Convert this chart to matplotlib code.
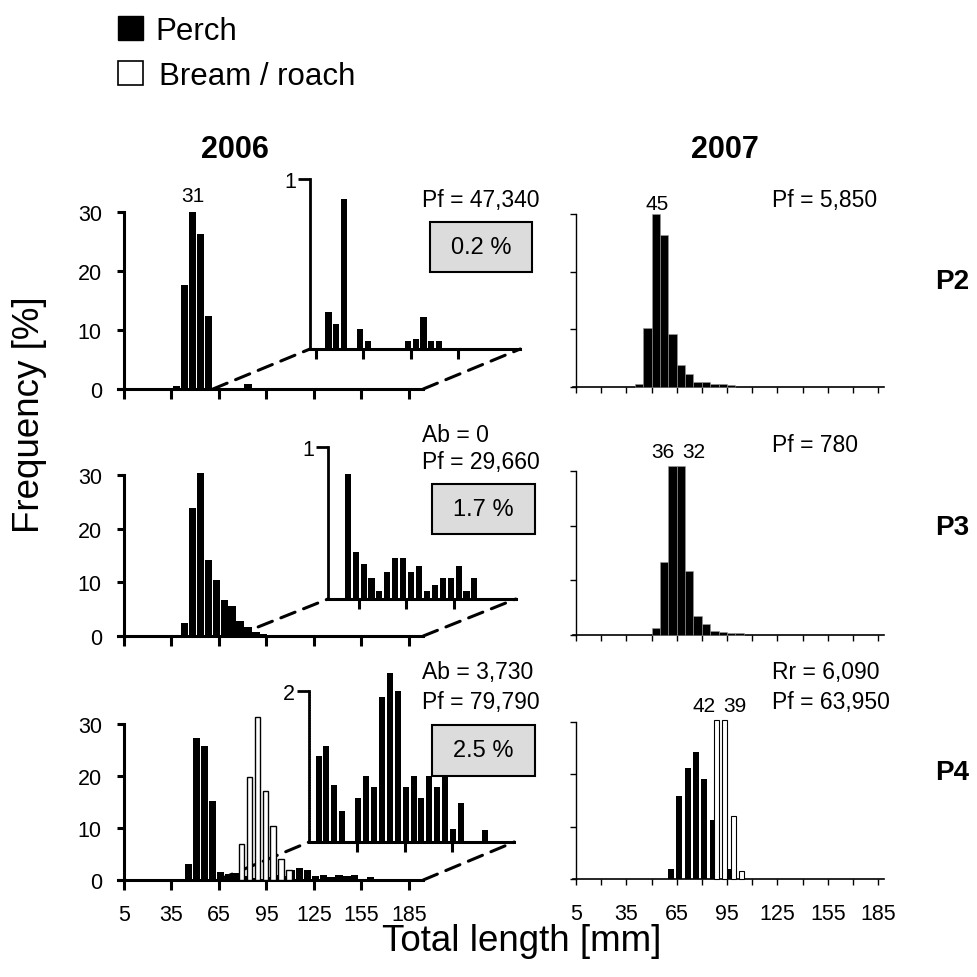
import numpy as np
import matplotlib.pyplot as plt
from matplotlib.patches import Rectangle, ConnectionPatch

plt.rcParams['font.family'] = ['Liberation Sans', 'DejaVu Sans']

# ================= Data: bin start [mm] and frequency [%] =================
# 2006
p2_2006_len = [36, 41, 46, 51, 56, 71, 76, 81, 91, 96, 121, 126, 131, 136, 141]
p2_2006_perch = [0.5, 17.6, 31.0, 26.3, 12.4, 0.22, 0.15, 0.88, 0.12, 0.05,
                 0.05, 0.06, 0.19, 0.05, 0.05]

p3_2006_len = [41, 46, 51, 56, 61, 66, 71, 76, 81, 86, 91, 96, 101, 106, 111,
               116, 121, 126, 131, 136, 141, 146, 151, 156, 161, 166]
p3_2006_perch = [2.4, 23.9, 40.0, 14.2, 10.5, 6.7, 5.6, 2.8, 1.7, 0.82, 0.31,
                 0.23, 0.14, 0.05, 0.18, 0.27, 0.27, 0.18, 0.22, 0.05, 0.09,
                 0.14, 0.14, 0.22, 0.05, 0.14]

p4_2006_len = [43.5, 48.5, 53.5, 58.5, 63.5, 68.5, 73.5, 78.5, 83.5, 93.5, 98.5,
               103.5, 108.5, 113.5, 118.5, 123.5, 128.5, 133.5, 138.5, 143.5,
               148.5, 153.5, 158.5, 173.5]
p4_2006_perch = [3.0, 27.3, 25.8, 15.2, 1.5, 1.14, 1.27, 0.76, 0.41, 0.58, 0.87,
                 0.73, 1.92, 2.24, 2.0, 0.73, 0.87, 0.58, 0.87, 0.73, 0.9, 0.17,
                 0.52, 0.16]
p4_2006_bream_len = [77.5, 82.5, 87.5, 92.5, 97.5, 102.5, 107.5]
p4_2006_bream = [7.0, 19.8, 31.3, 17.1, 10.4, 4.0, 2.0]

# 2007
p2_2007_len = [40, 45, 50, 55, 60, 65, 70, 75, 80, 85, 90, 95]
p2_2007_perch = [0.5, 10.3, 45, 26.4, 9.2, 3.9, 2.2, 0.9, 0.9, 0.5, 0.5, 0.3]

p3_2007_len = [50, 55, 60, 65, 70, 75, 80, 85, 90, 95, 100]
p3_2007_perch = [1.3, 13.4, 36, 32, 11.7, 3.5, 2.0, 0.8, 0.5, 0.3, 0.3]

p4_2007_len = [60, 65, 70, 75, 80, 85, 95]
p4_2007_perch = [2.0, 15.8, 21.3, 24.2, 19.2, 11.3, 2.0]
p4_2007_bream_len = [85, 90, 95, 100]
p4_2007_bream = [42, 39, 12, 1.5]

# text
notes_2006 = [["Pf = 47,340"], ["Ab = 0", "Pf = 29,660"], ["Ab = 3,730", "Pf = 79,790"]]
notes_2007 = [["Pf = 5,850"], ["Pf = 780"], ["Rr = 6,090", "Pf = 63,950"]]
share_2006 = ["0.2 %", "1.7 %", "2.5 %"]
sites = ["P2", "P3", "P4"]

# ================= Geometry (pixels) =================
W, H = 977, 978
fig = plt.figure(figsize=(W / 100, H / 100), dpi=100)


def add_ax(x0, x1, y_top, y_bot):
    return fig.add_axes([x0 / W, 1 - y_bot / H, (x1 - x0) / W, (y_bot - y_top) / H])


def ftext(x, y, s, **kw):
    fig.text(x / W, 1 - y / H, s, **kw)


L5, LS, LXLIM = 124.0, 1.5833, (1.0, 194.0)   # 2006 column: px of 5 mm, px per mm
R5, RS, RXLIM = 576.0, 1.678, (3.2, 188.5)    # 2007 column
left_rows = [(213, 390), (476, 637), (725, 881)]   # px of 30 % and 0 %
right_rows = [(215, 388), (472, 636), (723, 880)]
TICK_FS = 15.5
LAB_FS = 15
LW_L = 2.2

# ================= 2006 column =================
left_perch = [(p2_2006_len, p2_2006_perch), (p3_2006_len, p3_2006_perch),
              (p4_2006_len, p4_2006_perch)]
left_cap = [30.0, 30.4, 40.0]
left_label = [(46, 31, 7), (51, 40, 5), None]
insets = [  # dx, start mm, first bin shown, base px, top px, top value
    (97, 61.2, 61, 350, 180, 1),
    (92.5, 75.4, 86, 600, 448, 1),
    (91, 64.4, 68.5, 843, 692, 2),
]

for i, (top, bot) in enumerate(left_rows):
    ax = add_ax(L5 + (LXLIM[0] - 5) * LS, L5 + (LXLIM[1] - 5) * LS, top, bot)
    ax.set_xlim(*LXLIM)
    ax.set_ylim(0, 30)
    ax.patch.set_alpha(0)
    ax.spines[['top', 'right']].set_visible(False)
    ax.spines['left'].set_position(('data', 5))
    ax.spines['left'].set_linewidth(LW_L)
    ax.spines['bottom'].set_linewidth(LW_L)
    ax.set_xticks([5, 35, 65, 95, 125, 155, 185])
    ax.set_yticks([0, 10, 20, 30])
    ax.tick_params(axis='x', length=7, width=LW_L, labelsize=TICK_FS, pad=10)
    ax.tick_params(axis='y', length=5, width=LW_L, labelsize=TICK_FS, pad=11)
    if i < 2:
        ax.set_xticklabels([])

    lens, vals = left_perch[i]
    lens = np.array(lens, dtype=float)
    vals = np.array(vals, dtype=float)
    ax.bar(lens, np.minimum(vals, left_cap[i]), width=4.6, align='edge',
           color='black', lw=0, clip_on=False, zorder=3)
    if i == 2:
        ax.bar(p4_2006_bream_len, p4_2006_bream, width=3.4, align='edge',
               facecolor='white', edgecolor='black', lw=1.0, clip_on=False, zorder=3)
        ax.annotate("31", (89.2, 31.3), xytext=(0, 2), textcoords='offset points',
                    ha='center', va='bottom', fontsize=LAB_FS)
    else:
        x_l, v_l, gap = left_label[i]
        ax.annotate(str(v_l), (x_l + 2.3, left_cap[i]), xytext=(0, gap * 0.72),
                    textcoords='offset points', ha='center', va='bottom', fontsize=LAB_FS)

    # zoomed inset drawn as a back plane
    dx, m0, first, ybase, ytop, vtop = insets[i]
    ins = add_ax(L5 + (m0 - 5) * LS + dx, L5 + (LXLIM[1] - 5) * LS + dx, ytop, ybase)
    ins.set_xlim(m0, LXLIM[1])
    ins.set_ylim(0, vtop)
    ins.patch.set_alpha(0)
    ins.spines[['top', 'right']].set_visible(False)
    ins.spines['left'].set_linewidth(2.0)
    ins.spines['bottom'].set_linewidth(LW_L)
    ins.set_xticks([t for t in (65, 95, 125, 155) if t > m0 + 1])
    ins.set_xticklabels([])
    ins.set_yticks([vtop])
    ins.tick_params(axis='x', length=7, width=LW_L)
    ins.tick_params(axis='y', length=9, width=2.0, labelsize=TICK_FS, pad=1)
    sel = lens >= first
    ins.bar(lens[sel], vals[sel], width=3.8, align='edge', color='black',
            lw=0, clip_on=False, zorder=3)
    if i == 2:
        ins.axvline(m0 + 0.7, color='black', lw=0.7, ls=':')
    for xa in (m0, LXLIM[1]):
        con = ConnectionPatch(xyA=(xa, 0), coordsA=ax.transData, xyB=(xa, 0),
                              coordsB=ins.transData, color='black', lw=2.2,
                              linestyle=(0, (5, 3)), zorder=1)
        con.set_clip_on(False)
        ax.add_artist(con)

# ================= 2007 column =================
right_perch = [(p2_2007_len, p2_2007_perch), (p3_2007_len, p3_2007_perch),
               (p4_2007_len, p4_2007_perch)]
right_cap = [30.0, 30.9, 30.4]
for i, (top, bot) in enumerate(right_rows):
    ax = add_ax(R5 + (RXLIM[0] - 5) * RS, R5 + (RXLIM[1] - 5) * RS, top, bot)
    ax.set_xlim(*RXLIM)
    ax.set_ylim(0, 30)
    ax.patch.set_alpha(0)
    ax.spines[['top', 'right']].set_visible(False)
    ax.spines['left'].set_position(('data', 5))
    ax.spines['left'].set_linewidth(1.0)
    ax.spines['bottom'].set_linewidth(1.2)
    ax.set_xticks(np.arange(5, 186, 15))
    ax.set_yticks([0, 10, 20, 30])
    ax.set_yticklabels([])
    ax.tick_params(axis='x', length=4, width=1.0, labelsize=TICK_FS, pad=13)
    ax.tick_params(axis='y', length=4, width=1.0)
    if i < 2:
        ax.set_xticklabels([])
    else:
        ax.set_xticklabels([str(t) if (t - 5) % 30 == 0 else "" for t in range(5, 186, 15)])

    lens, vals = right_perch[i]
    vals = np.minimum(np.array(vals, dtype=float), right_cap[i])
    if i < 2:
        ax.bar(lens, vals, width=5, align='edge', color='black',
               edgecolor='#9a9a9a', lw=0.4, clip_on=False, zorder=3)
    else:
        ax.bar(np.array(lens) - 0.3, vals, width=3.6, align='edge', color='black',
               lw=0, clip_on=False, zorder=3)
        bv = np.minimum(np.array(p4_2007_bream, dtype=float), right_cap[i])
        ax.bar(np.array(p4_2007_bream_len) + 2.2, bv, width=3.0, align='edge',
               facecolor='white', edgecolor='black', lw=0.8, clip_on=False, zorder=4)

# bar value labels of the 2007 column (pixel positions of text)
ftext(657, 204, "45", ha='center', va='center', fontsize=LAB_FS)
ftext(675, 453, "36", ha='right', va='center', fontsize=LAB_FS)
ftext(682, 453, "32", ha='left', va='center', fontsize=LAB_FS)
ftext(716, 707, "42", ha='right', va='center', fontsize=LAB_FS)
ftext(723, 707, "39", ha='left', va='center', fontsize=LAB_FS)

# ================= Notes and boxes =================
note_y = [[200], [436, 463], [673, 703]]
note_y_r = [[200], [446], [672, 703]]
for i in range(3):
    for s, y in zip(notes_2006[i], note_y[i]):
        ftext(422, y, s, ha='left', va='center', fontsize=16.5)
    for s, y in zip(notes_2007[i], note_y_r[i]):
        ftext(772, y, s, ha='left', va='center', fontsize=16.5)

boxes = [(430, 223, 532, 273), (432, 485, 535, 535), (432, 726, 535, 777)]
for (x0, y0, x1, y1), s in zip(boxes, share_2006):
    fig.add_artist(Rectangle((x0 / W, 1 - y1 / H), (x1 - x0) / W, (y1 - y0) / H,
                             transform=fig.transFigure, facecolor='#dcdcdc',
                             edgecolor='black', lw=1.5, zorder=5))
    ftext((x0 + x1) / 2, (y0 + y1) / 2, s, ha='center', va='center',
          fontsize=17, zorder=6)

# ================= Titles, labels, legend =================
ftext(235, 150, "2006", ha='center', va='center', fontsize=22, fontweight='bold')
ftext(725, 150, "2007", ha='center', va='center', fontsize=22, fontweight='bold')
for s, y in zip(sites, [282, 528, 773]):
    ftext(952, y, s, ha='center', va='center', fontsize=20, fontweight='bold')
ftext(30, 415, "Frequency [%]", ha='center', va='center', rotation=90, fontsize=26.5)
ftext(522, 942, "Total length [mm]", ha='center', va='center', fontsize=26.5)

fig.add_artist(Rectangle((118 / W, 1 - 41 / H), 25 / W, 24 / H,
                         transform=fig.transFigure, facecolor='black',
                         edgecolor='black', lw=1))
fig.add_artist(Rectangle((118 / W, 1 - 86 / H), 25 / W, 24 / H,
                         transform=fig.transFigure, facecolor='white',
                         edgecolor='black', lw=1.2))
ftext(155, 32, "Perch", ha='left', va='center', fontsize=22.5)
ftext(159, 77, "Bream / roach", ha='left', va='center', fontsize=22.5)

fig.savefig("out.png", dpi=100)
